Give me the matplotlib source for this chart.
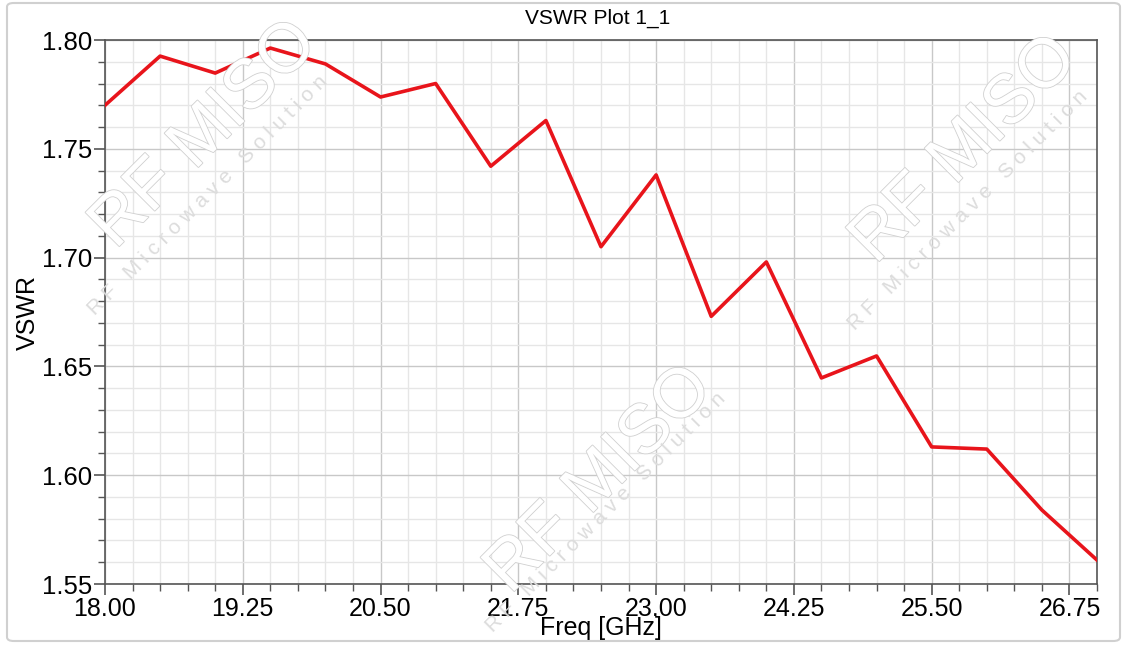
import matplotlib
matplotlib.use("Agg")
import matplotlib.pyplot as plt
import matplotlib.patheffects as pe
from matplotlib.patches import FancyBboxPatch
from matplotlib.ticker import FixedLocator, MultipleLocator, FormatStrFormatter

plt.rcParams['font.family'] = ['Liberation Sans', 'DejaVu Sans']

freq = [18.0, 18.5, 19.0, 19.5, 20.0, 20.5, 21.0, 21.5, 22.0, 22.5,
        23.0, 23.5, 24.0, 24.5, 25.0, 25.5, 26.0, 26.5, 27.0]
vswr = [1.770, 1.7926, 1.7848, 1.7963, 1.789, 1.7738, 1.780, 1.742, 1.763, 1.705,
        1.738, 1.673, 1.698, 1.6447, 1.6548, 1.613, 1.612, 1.584, 1.561]
xticks = [18.00, 19.25, 20.50, 21.75, 23.00, 24.25, 25.50, 26.75]

fig = plt.figure(figsize=(11.27, 6.46), dpi=100)
ax = fig.add_axes([105 / 1127, 62 / 646, 992 / 1127, 544 / 646])

# outer rounded border
fig.patches.append(FancyBboxPatch((7 / 1127, 5 / 646), 1113 / 1127, 638 / 646,
                                  boxstyle="round,pad=0,rounding_size=0.006",
                                  transform=fig.transFigure, fill=False,
                                  edgecolor='#d0d0d0', linewidth=1.5))

ax.plot(freq, vswr, color='#e8141b', linewidth=2.6, zorder=5)

ax.set_xlim(18.0, 27.0)
ax.set_ylim(1.55, 1.80)
ax.xaxis.set_major_locator(FixedLocator(xticks))
ax.xaxis.set_minor_locator(MultipleLocator(0.25))
ax.yaxis.set_major_locator(MultipleLocator(0.05))
ax.yaxis.set_minor_locator(MultipleLocator(0.01))
ax.xaxis.set_major_formatter(FormatStrFormatter('%.2f'))
ax.yaxis.set_major_formatter(FormatStrFormatter('%.2f'))

ax.grid(which='major', color='#c8c8c8', linewidth=1.0)
ax.grid(which='minor', color='#e6e6e6', linewidth=1.0)
ax.set_axisbelow(True)

ax.tick_params(which='major', direction='out', length=8, width=1.2, color='#555555', pad=1)
ax.tick_params(axis='y', which='major', labelsize=18.5)
ax.tick_params(axis='x', which='major', labelsize=18)
ax.tick_params(which='minor', direction='out', length=5, width=1.0, color='#555555')
for s in ax.spines.values():
    s.set_color('#555555')
    s.set_linewidth(1.2)

ax.set_xlabel('Freq [GHz]', fontsize=18, labelpad=-3)
ax.set_ylabel('VSWR', fontsize=18, labelpad=2)
fig.text(0.53, 0.972, 'VSWR Plot 1_1', fontsize=15, ha='center', va='center')

# faint watermarks: (main centre, subtitle centre) in pixels
wm = [((205, 135), (208, 195)), ((965, 150), (968, 210)), ((600, 480), (606, 512))]
for (px, py), (sx, sy) in wm:
    t = fig.text(px / 1127, 1 - py / 646, 'RF MISO', fontsize=50, rotation=45,
                 ha='center', va='center', color='white', zorder=0.5)
    t.set_path_effects([pe.Stroke(linewidth=1.2, foreground='#d0d0d0'), pe.Normal()])
    fig.text(sx / 1127, 1 - sy / 646, 'R F   M i c r o w a v e   S o l u t i o n',
             fontsize=15, rotation=45, ha='center', va='center', color='#dcdcdc', zorder=0.5)

fig.savefig('out.png', dpi=100)
